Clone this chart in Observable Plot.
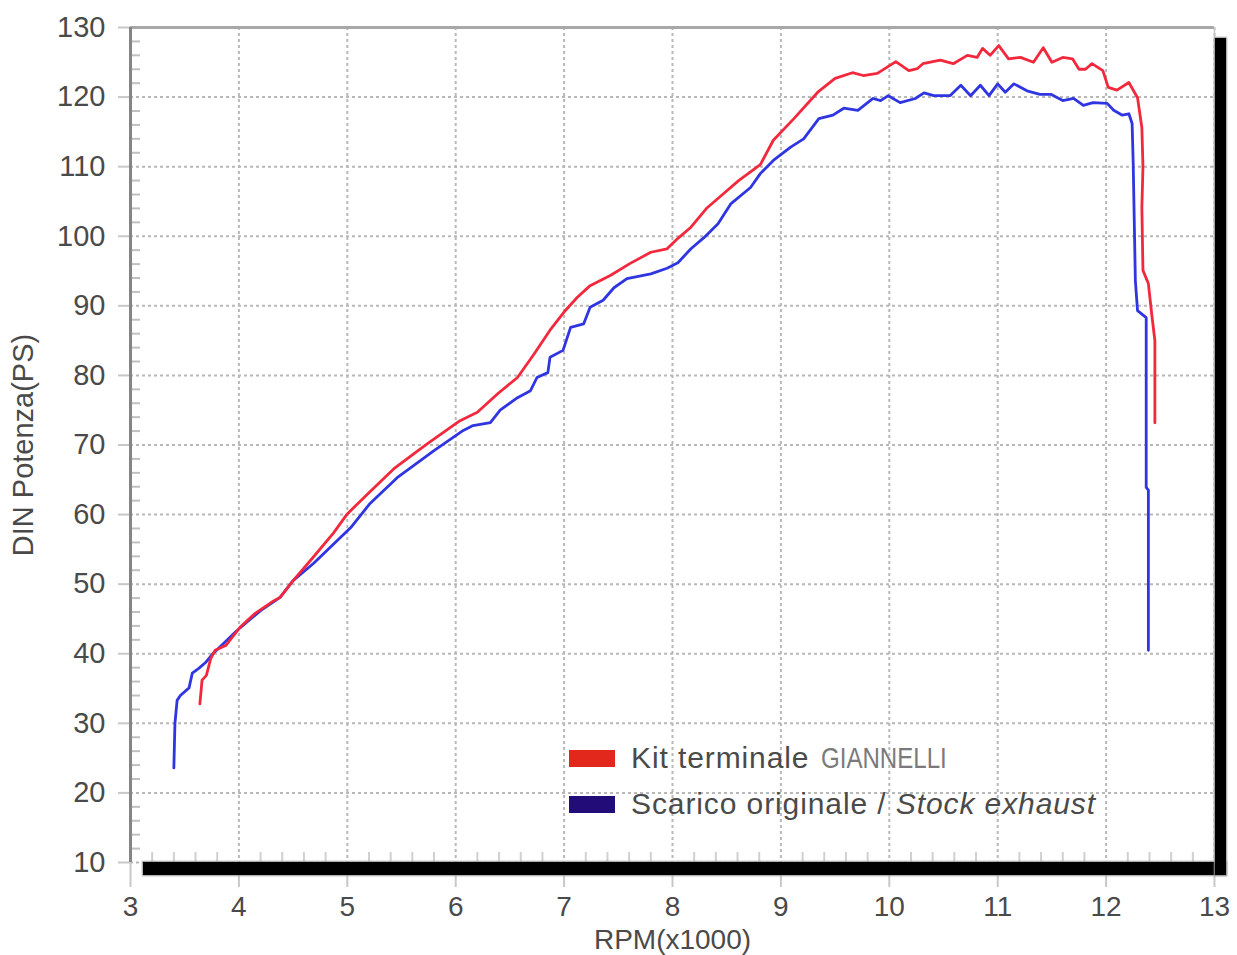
<!DOCTYPE html>
<html>
<head>
<meta charset="utf-8">
<script src="https://cdn.jsdelivr.net/npm/d3@7"></script>
<script src="https://cdn.jsdelivr.net/npm/@observablehq/plot@0.6"></script>
<style>
  body { margin: 0; background: #fff; }
  #wrap { position: relative; width: 1237px; height: 955px; overflow: hidden; background: #fff;
          font-family: "Liberation Sans", Arial, Helvetica, sans-serif; }
  #chart { position: absolute; left: 0; top: 0; }
  .shadow { position: absolute; background: #000; box-shadow: 0 0 1.5px 1px #9a9a9a; }
  #legend { position: absolute; left: 569px; top: 735px; color: #4a4a4a; font-size: 30px; letter-spacing: 0.9px; }
  #legend .row { display: flex; align-items: center; height: 46px; white-space: nowrap; }
  #legend .sw { display: inline-block; width: 46px; height: 17px; margin-right: 16px; }
  #legend .brand { display: inline-block; transform: scaleX(0.83); transform-origin: left center;
                   color: #7a7a7a; font-size: 29px; letter-spacing: 0; margin-left: 12px; }
</style>
</head>
<body>
<div id="wrap">
  <div id="chart"></div>
  <div class="shadow" style="left:143px; top:862px; width:1083px; height:13px;"></div>
  <div class="shadow" style="left:1215px; top:38px; width:11px; height:837px;"></div>
  <div id="legend">
    <div class="row"><span class="sw" style="background:#e2281c"></span><span>Kit terminale</span><span class="brand">GIANNELLI</span></div>
    <div class="row"><span class="sw" style="background:#220c78"></span><span>Scarico originale / <i>Stock exhaust</i></span></div>
  </div>
</div>
<script>
// ---- data ----
const giannelliRpm = [3.64,3.66,3.70,3.74,3.78,3.88,4.01,4.15,4.32,4.38,4.5,4.66,4.87,5.0,5.19,5.43,5.74,6.04,6.2,6.39,
  6.57,6.72,6.87,7.01,7.12,7.24,7.43,7.61,7.8,7.95,8.05,8.17,8.32,8.47,8.61,8.81,8.93,9.12,9.34,9.5,
  9.66,9.76,9.89,10.06,10.18,10.26,10.31,10.47,10.59,10.72,10.81,10.86,10.93,11.01,11.1,11.21,11.33,11.42,11.5,11.6,
  11.69,11.75,11.81,11.87,11.97,12.02,12.1,12.21,12.29,12.33,12.34,12.33,12.34,12.39,12.42,12.45,12.45];
const giannelliPs = [32.8,36.2,36.9,39.3,40.5,41.2,43.8,45.8,47.6,48.1,50.5,53.4,57.3,60.1,63.0,66.6,70.2,73.5,74.7,77.4,
  79.7,83.0,86.5,89.3,91.2,92.9,94.4,96.1,97.7,98.2,99.7,101.3,104.1,106.1,108.0,110.3,113.8,116.9,120.7,122.7,
  123.5,123.1,123.4,125.1,123.8,124.1,124.8,125.3,124.8,126.0,125.7,127.0,126.0,127.4,125.5,125.7,125.0,127.1,125.0,125.7,
  125.5,124.0,124.0,124.8,123.8,121.4,121.0,122.1,119.9,115.6,110.0,104.1,95.1,93.2,88.9,85.0,73.2];

const stockRpm = [3.40,3.41,3.43,3.46,3.54,3.57,3.63,3.69,3.76,3.98,4.2,4.38,4.5,4.69,4.91,5.03,5.21,5.46,5.8,6.07,
  6.16,6.32,6.41,6.57,6.69,6.75,6.85,6.87,6.99,7.06,7.18,7.24,7.36,7.46,7.58,7.8,7.95,8.05,8.17,8.29,
  8.42,8.54,8.72,8.81,8.93,9.09,9.21,9.35,9.48,9.58,9.71,9.85,9.92,9.99,10.1,10.24,10.32,10.41,10.56,10.66,
  10.75,10.84,10.92,11.0,11.07,11.15,11.27,11.39,11.49,11.6,11.7,11.79,11.88,12.01,12.07,12.15,12.21,12.24,12.25,12.27,
  12.29,12.37,12.37,12.39,12.39,12.39];
const stockPs = [23.6,30.0,33.3,34.0,35.1,37.2,37.9,38.7,40.0,43.3,46.2,48.1,50.5,53.0,56.3,58.1,61.6,65.3,69.2,72.1,
  72.8,73.2,75.0,76.8,77.8,79.7,80.4,82.6,83.6,86.9,87.4,89.8,90.8,92.6,93.9,94.6,95.4,96.2,98.2,99.8,
  101.8,104.7,107.0,109.0,110.9,112.8,114.0,116.9,117.4,118.4,118.1,119.8,119.5,120.2,119.2,119.8,120.6,120.2,120.2,121.7,
  120.2,121.7,120.2,121.9,120.7,121.9,120.9,120.4,120.4,119.5,119.8,118.8,119.2,119.1,118.1,117.4,117.6,116.2,110.5,93.6,
  89.3,88.3,63.9,63.5,59.1,40.5];

const xTicks = [3,4,5,6,7,8,9,10,11,12,13];
const yTicks = [10,20,30,40,50,60,70,80,90,100,110,120,130];
const xMinorTicks = d3.range(30, 131, 2).filter(d => d % 10 !== 0).map(d => d / 10);
const yMinorTicks = d3.range(10, 131, 2).filter(d => d % 10 !== 0);

const giannelli = giannelliRpm.map((r, i) => ({rpm: r, ps: giannelliPs[i]}));
const stock = stockRpm.map((r, i) => ({rpm: r, ps: stockPs[i]}));

const textColor = "#4a4a4a";
const chart = Plot.plot({
  width: 1237,
  height: 955,
  marginLeft: 130,
  marginRight: 23,
  marginTop: 27,
  marginBottom: 93,
  style: {fontFamily: '"Liberation Sans", Arial, sans-serif', fontSize: "28px", background: "#fff", overflow: "visible"},
  x: {domain: [3, 13]},
  y: {domain: [10, 130]},
  marks: [
    Plot.gridX({ticks: xTicks, stroke: "#b8b8b8", strokeOpacity: 1, strokeWidth: 2, strokeDasharray: "3,3"}),
    Plot.gridY({ticks: yTicks, stroke: "#b8b8b8", strokeOpacity: 1, strokeWidth: 2, strokeDasharray: "3,3"}),
    Plot.axisX({ticks: xMinorTicks, tickSize: -10, tickFormat: () => "", stroke: "#d0d0d0", strokeWidth: 2, label: null}),
    Plot.axisY({ticks: yMinorTicks, tickSize: -10, tickFormat: () => "", stroke: "#c0c0c0", strokeWidth: 2, label: null}),
    Plot.axisX({ticks: xTicks, tickSize: 25, tickPadding: 9, stroke: "#c8c8c8", strokeWidth: 2, fill: textColor,
                fontSize: 28, label: "RPM(x1000)", labelAnchor: "center", labelOffset: 86, labelArrow: "none"}),
    Plot.axisY({ticks: yTicks, tickSize: 12, tickPadding: 13, stroke: "#c8c8c8", strokeWidth: 2, fill: textColor,
                fontSize: 29, label: "DIN Potenza(PS)", labelAnchor: "center", labelOffset: 118, labelArrow: "none"}),
    Plot.ruleY([130], {stroke: "#a8a8a8", strokeWidth: 3}),
    Plot.ruleX([13], {stroke: "#c8c8c8", strokeWidth: 1.5}),
    Plot.ruleX([3], {stroke: "#858585", strokeWidth: 3}),
    Plot.line(stock, {x: "rpm", y: "ps", stroke: "#2f35e0", strokeWidth: 2.8}),
    Plot.line(giannelli, {x: "rpm", y: "ps", stroke: "#f2283c", strokeWidth: 2.8})
  ]
});
document.getElementById("chart").appendChild(chart);
</script>
</body>
</html>
